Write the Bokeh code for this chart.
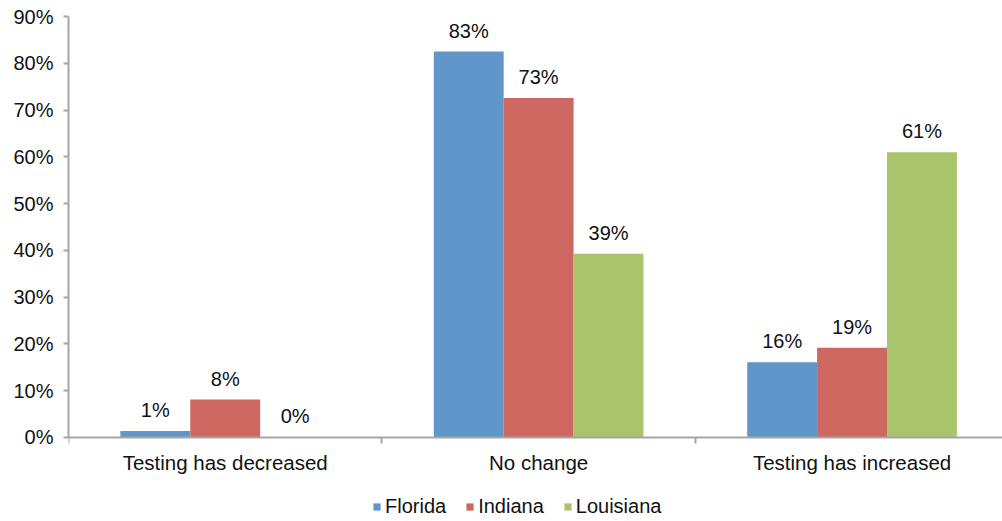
import numpy as np
from bokeh.plotting import figure
from bokeh.models import (ColumnDataSource, Range1d, FixedTicker, PrintfTickFormatter,
                          Legend, LegendItem)
from bokeh.transform import dodge
from bokeh.core.properties import value
from bokeh.embed import file_html
from bokeh.resources import INLINE

categories = ["Testing has decreased", "No change", "Testing has increased"]
series = ["Florida", "Indiana", "Louisiana"]
florida = [1.4, 82.5, 16.1]
indiana = [8.1, 72.6, 19.2]
louisiana = [0.0, 39.3, 61.0]
florida_labels = ["1%", "83%", "16%"]
indiana_labels = ["8%", "73%", "19%"]
louisiana_labels = ["0%", "39%", "61%"]
colors = ["#6096C9", "#CE6760", "#A9C46B"]
y_ticks = [0, 10, 20, 30, 40, 50, 60, 70, 80, 90]

FONT = "Liberation Sans"
x = np.arange(len(categories)) + 0.5

src = ColumnDataSource(dict(
    x=x, florida=florida, indiana=indiana, louisiana=louisiana,
    fl_lab=florida_labels, in_lab=indiana_labels, lo_lab=louisiana_labels,
))

# frame extends below the zero line so the legend sits inside the frame
p = figure(frame_width=934, frame_height=505, output_backend="svg", toolbar_location=None,
           x_range=Range1d(0, 2.98), y_range=Range1d(-17.96, 90),
           min_border_left=68, min_border_right=0, min_border_top=16, min_border_bottom=0)
p.outline_line_color = None
p.xgrid.grid_line_color = None
p.ygrid.grid_line_color = None
p.background_fill_color = "white"
p.border_fill_color = "white"

w = 0.223
offsets = [-w, 0.0, w]
fields = ["florida", "indiana", "louisiana"]
labs = ["fl_lab", "in_lab", "lo_lab"]
renderers = []
for f, lab, off, c in zip(fields, labs, offsets, colors):
    r = p.vbar(x=dodge("x", off), top=f, bottom=0, width=w, source=src,
               fill_color=c, line_color=None)
    renderers.append(r)
    p.text(x=dodge("x", off), y=f, text=lab, source=src, text_align="center",
           text_baseline="middle", y_offset=-21, text_font=value(FONT),
           text_font_size="20px", text_color="#111111")

# axes
axis_color = "#A6A6A6"
p.yaxis.ticker = FixedTicker(ticks=y_ticks)
p.yaxis.bounds = (0, 90)
p.yaxis.formatter = PrintfTickFormatter(format="%d%%")
p.yaxis.axis_line_color = axis_color
p.yaxis.axis_line_width = 2
p.yaxis.major_tick_line_color = axis_color
p.yaxis.major_tick_line_width = 2
p.yaxis.major_tick_in = 0
p.yaxis.major_tick_out = 5
p.yaxis.minor_tick_line_color = None
p.yaxis.major_label_standoff = 10
p.yaxis.major_label_text_font = FONT
p.yaxis.major_label_text_font_size = "20px"
p.yaxis.major_label_text_color = "#111111"

p.xaxis.fixed_location = 0
p.xaxis.ticker = FixedTicker(ticks=list(x), minor_ticks=[0, 1, 2, 3])
p.xaxis.major_label_overrides = {float(v): c for v, c in zip(x, categories)}
p.xaxis.axis_line_color = axis_color
p.xaxis.axis_line_width = 2
p.xaxis.major_tick_line_color = None
p.xaxis.major_tick_out = 0
p.xaxis.major_tick_in = 0
p.xaxis.minor_tick_line_color = axis_color
p.xaxis.minor_tick_line_width = 2
p.xaxis.minor_tick_in = 0
p.xaxis.minor_tick_out = 6
p.xaxis.major_label_standoff = 8
p.xaxis.major_label_text_font = FONT
p.xaxis.major_label_text_font_size = "20.5px"
p.xaxis.major_label_text_color = "#111111"

legend = Legend(items=[LegendItem(label=s, renderers=[r]) for s, r in zip(series, renderers)],
                orientation="horizontal", location=(304, 3),
                glyph_width=9, glyph_height=9, label_standoff=4, spacing=19,
                label_text_font=FONT, label_text_font_size="20px", label_text_color="#111111",
                border_line_color=None, background_fill_alpha=0, padding=0, margin=0)
p.add_layout(legend)

open("out.html", "w").write(file_html(p, INLINE))
